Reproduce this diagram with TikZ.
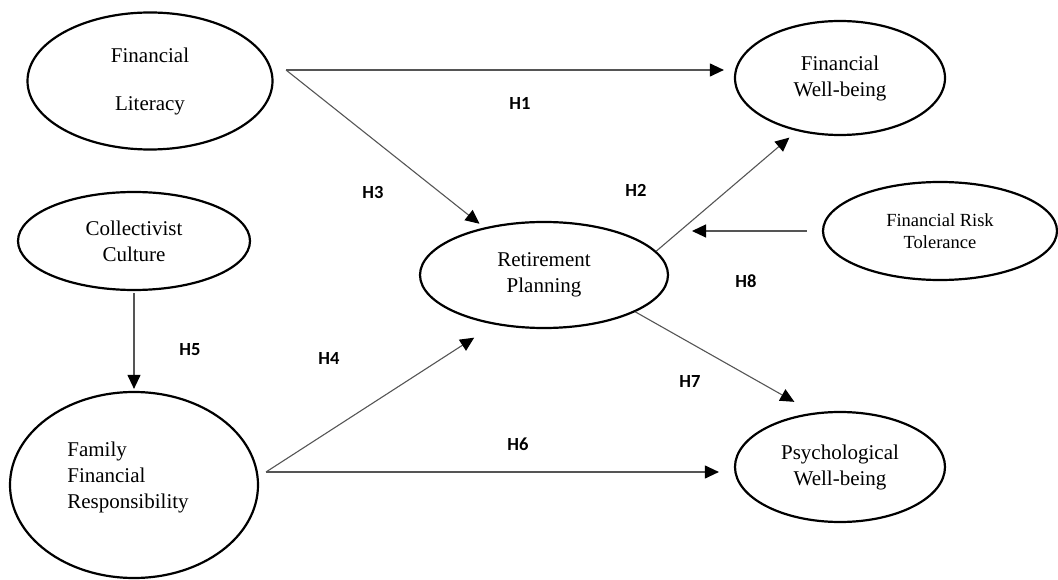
\documentclass[tikz,border=0pt]{standalone}
\usepackage{fontspec}
\setmainfont{Liberation Serif}
\newfontfamily\hfont{Carlito}
\usetikzlibrary{arrows.meta,shapes.geometric,calc}
\definecolor{ink}{RGB}{0,0,0}
\definecolor{linkgray}{RGB}{85,85,85}

\begin{document}
\begin{tikzpicture}[x=1pt,y=1pt,
    construct/.style={ellipse,draw=ink,line width=2.2pt,inner sep=0pt,
      font=\fontsize{21}{26}\selectfont,align=center},
    link/.style={draw=linkgray,line width=1.1pt,
      -{Triangle[length=14pt,width=13pt,color=ink]}},
    hlabel/.style={font=\hfont\bfseries\fontsize{18.5}{22}\selectfont,text=ink}]
  \useasboundingbox (0,0) rectangle (1058,579);
  % constructs
  \node[construct,minimum width=245pt,minimum height=137pt] (lit) at (150,498)
    {Financial\\[22pt]Literacy};
  \node[construct,minimum width=232pt,minimum height=98pt] (coll) at (134,338)
    {Collectivist\\Culture};
  \node[construct,minimum width=248pt,minimum height=186pt] (fam) at (134,94) {};
  \node[font=\fontsize{21}{26}\selectfont,align=left,inner sep=0pt] (fam-text) at (128,102)
    {Family\\Financial\\Responsibility};
  \node[construct,minimum width=248pt,minimum height=106pt] (ret) at (544,304)
    {Retirement\\Planning};
  \node[construct,minimum width=210pt,minimum height=114pt] (fwb) at (840,501)
    {Financial\\Well-being};
  \node[construct,minimum width=234pt,minimum height=98pt,
    font=\fontsize{18.5}{22}\selectfont] (risk) at (940,348)
    {Financial Risk\\Tolerance};
  \node[construct,minimum width=210pt,minimum height=110pt] (pwb) at (840,112)
    {Psychological\\Well-being};
  % free ends
  \coordinate (lit-out) at (286,509);
  \coordinate (fam-out) at (266,107);
  \coordinate (mod-pt) at (692,348);
  % paths
  \draw[link,shorten >=10pt] (lit-out) -- (lit-out -| fwb.west);
  \draw[link,shorten >=6pt] (lit-out) -- (ret);
  \draw[link,shorten >=10pt] (ret.12) -- (fwb.231);
  \draw[link] ([xshift=-15pt]risk.west) -- (mod-pt);
  \draw[link,shorten >=22pt] (ret.338) -- (pwb.116);
  \draw[link,shorten >=24pt] (fam-out) -- (ret.225);
  \draw[link,shorten >=15pt] (fam-out) -- (fam-out -| pwb.west);
  \draw[link,shorten <=2pt,shorten >=2pt] (coll) -- (fam);
  % hypotheses
  \node[hlabel] (h1) at (520,476) {H1};
  \node[hlabel] (h2) at (636,389) {H2};
  \node[hlabel] (h3) at (373,386) {H3};
  \node[hlabel] (h4) at (329,221) {H4};
  \node[hlabel] (h5) at (190,229) {H5};
  \node[hlabel] (h6) at (518,135) {H6};
  \node[hlabel] (h7) at (690,197) {H7};
  \node[hlabel] (h8) at (746,298) {H8};
\end{tikzpicture}
\end{document}
